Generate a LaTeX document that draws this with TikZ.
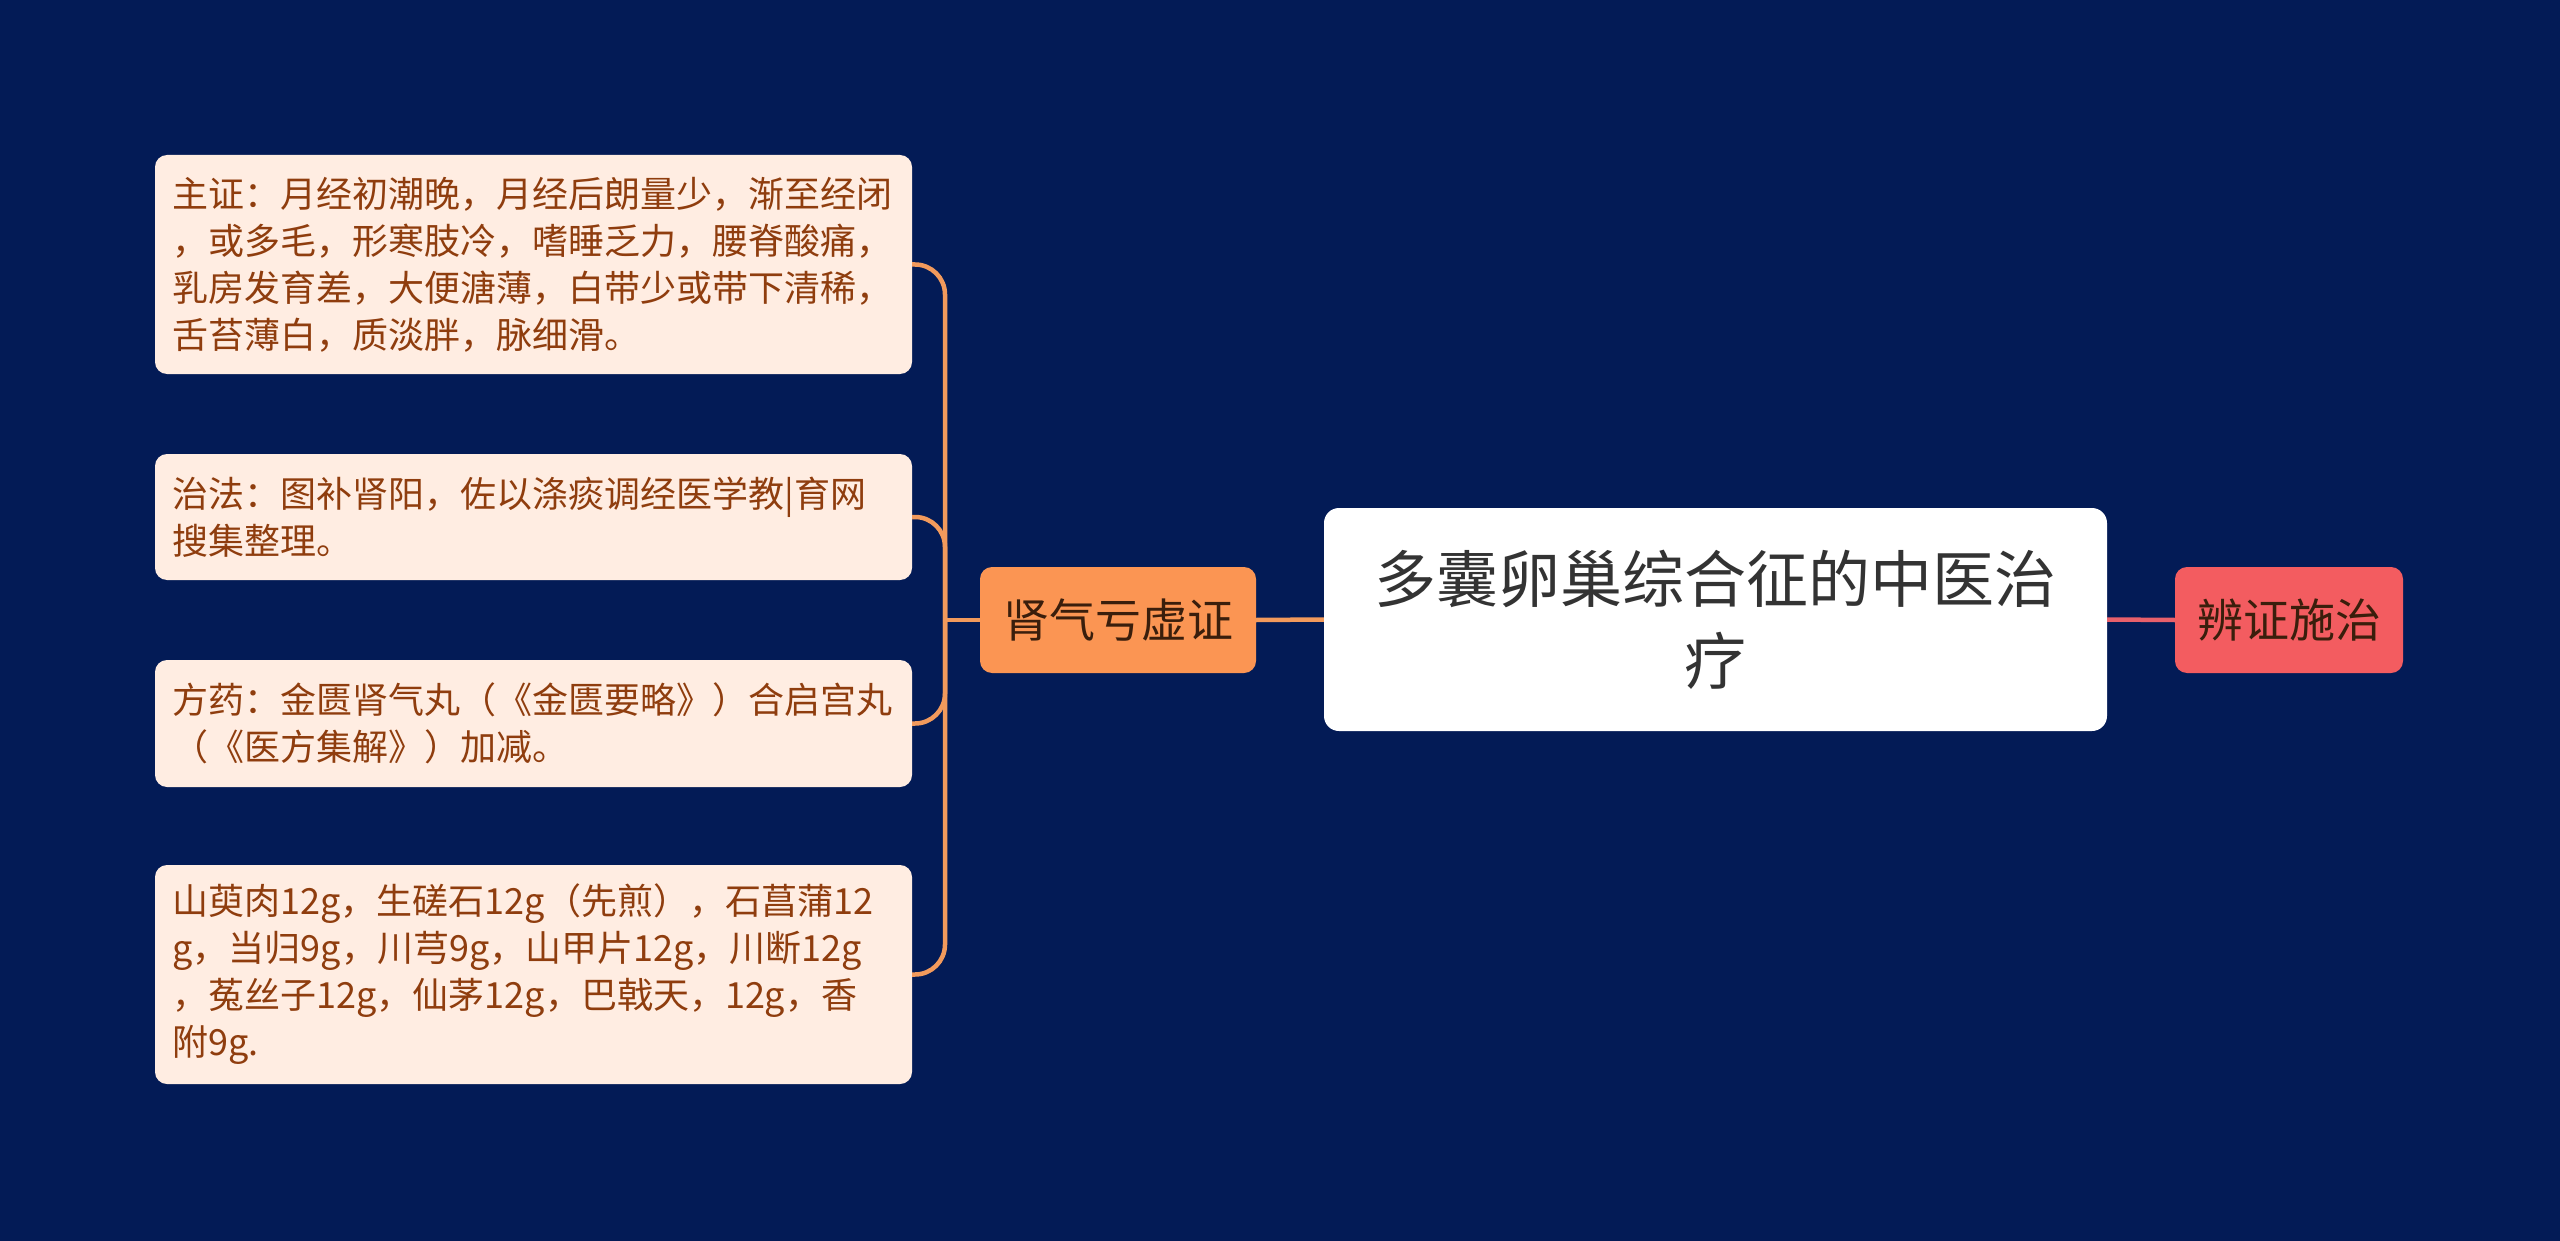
\documentclass[tikz,border=0pt]{standalone}
\usepackage{fontspec}
\setmainfont{Noto Sans CJK SC}
\usetikzlibrary{calc}
\definecolor{bg}{HTML}{031B56}
\definecolor{leaffill}{HTML}{FFEDE2}
\definecolor{leaftext}{HTML}{8F3D0E}
\definecolor{orangenode}{HTML}{FB9553}
\definecolor{rednode}{HTML}{F35C60}
\definecolor{linkorange}{HTML}{F29A5C}
\definecolor{linkred}{HTML}{E8606B}
\definecolor{titletext}{HTML}{333333}
\definecolor{darktext}{HTML}{3A1E0C}
\tikzset{
  leaf/.style={draw=none, fill=leaffill, rounded corners=12pt, text=leaftext,
    text width=722pt, align=left, inner xsep=17.5pt, inner ysep=0pt,
    font=\fontsize{36}{47}\selectfont, anchor=center},
  subnode/.style={fill=orangenode, rounded corners=12pt, text=darktext,
    font=\fontsize{46}{56}\selectfont, inner xsep=0pt, inner ysep=0pt,
    minimum width=276pt, minimum height=106pt},
  rightnode/.style={fill=rednode, rounded corners=12pt, text=darktext,
    font=\fontsize{46}{56}\selectfont, inner xsep=0pt, inner ysep=0pt,
    minimum width=228pt, minimum height=106pt},
  rootnode/.style={fill=white, rounded corners=15pt, text=titletext,
    font=\fontsize{62}{82}\selectfont, align=center, inner sep=0pt,
    minimum width=783pt, minimum height=223pt},
  olink/.style={draw=linkorange, line width=4.5pt},
  rlink/.style={draw=linkred, line width=4.5pt},
}
\begin{document}
\begin{tikzpicture}[x=1pt, y=-1pt]
\fill[bg] (0,0) rectangle (2560,1241);
\useasboundingbox (0,0) rectangle (2560,1241);

\node[rootnode] (root) at (1715.5,619.5) {多囊卵巢综合征的中医治\\疗};
\node[subnode] (sub) at (1118,620) {肾气亏虚证};
\node[rightnode] (right) at (2289,620) {辨证施治};

\node[leaf, minimum height=219pt] (l1) at (533.5,264.5) {主证：月经初潮晚，月经后朗量少，渐至经闭\\，或多毛，形寒肢冷，嗜睡乏力，腰脊酸痛，\\乳房发育差，大便溏薄，白带少或带下清稀，\\舌苔薄白，质淡胖，脉细滑。};
\node[leaf, minimum height=126pt] (l2) at (533.5,517) {治法：图补肾阳，佐以涤痰调经医学教|育网\\搜集整理。};
\node[leaf, minimum height=127pt] (l3) at (533.5,723.5) {方药：金匮肾气丸（《金匮要略》）合启宫丸\\（《医方集解》）加减。};
\node[leaf, minimum height=219pt] (l4) at (533.5,974.5) {山萸肉12g，生磋石12g（先煎），石菖蒲12\\g，当归9g，川芎9g，山甲片12g，川断12g\\，菟丝子12g，仙茅12g，巴戟天，12g，香\\附9g.};

\coordinate (bx) at (945,620);
\draw[olink] (root.west) -- (sub.east);
\draw[olink] (sub.west) -- (bx);
\draw[olink, rounded corners=30pt] (bx) |- (l1.east);
\draw[olink, rounded corners=30pt] (bx) |- (l2.east);
\draw[olink, rounded corners=30pt] (bx) |- (l3.east);
\draw[olink, rounded corners=30pt] (bx) |- (l4.east);
\draw[rlink] (root.east) -- (right.west);
\end{tikzpicture}
\end{document}
